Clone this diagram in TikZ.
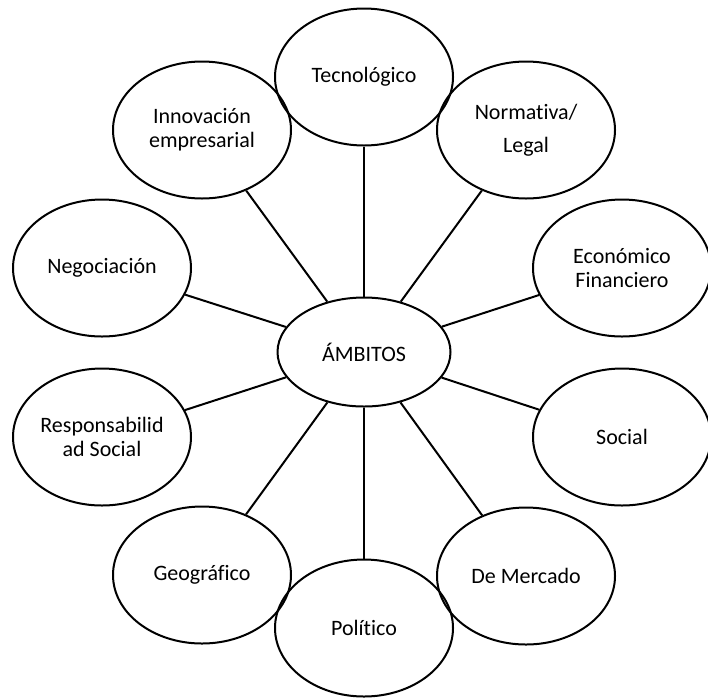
\documentclass[tikz,border=0pt]{standalone}
\usepackage{fontspec}
\setmainfont{Carlito}[Ligatures={NoCommon}]
\usetikzlibrary{shapes.geometric}

\begin{document}
\begin{tikzpicture}[x=1pt, y=-1pt, line width=2pt,
    ambito/.style={draw, ellipse, inner sep=0pt, minimum width=178pt, minimum height=137pt,
      align=center, font=\fontsize{22}{24}\selectfont},
    centro/.style={draw, ellipse, inner sep=0pt, minimum width=173pt, minimum height=109pt,
      font=\fontsize{22}{24}\selectfont}]
    \useasboundingbox (0,0) rectangle (708,697);

    \node[centro] (amb) at (364,352) {ÁMBITOS};

    \node[ambito] (tec) at (364,77) {Tecnológico};
    \node[ambito] (nor) at (526,130) {Normativa/\\[9pt]Legal};
    \node[ambito] (eco) at (622,268) {Económico\\Financiero};
    \node[ambito] (soc) at (622,437) {Social};
    \node[ambito] (mer) at (526,576) {De Mercado};
    \node[ambito] (pol) at (364,628) {Político};
    \node[ambito] (geo) at (202,575) {Geográfico};
    \node[ambito] (res) at (102,437) {Responsabilid\\ad Social};
    \node[ambito] (neg) at (102,268) {Negociación};
    \node[ambito] (inn) at (202,130) {Innovación\\empresarial};

    \foreach \n in {tec,nor,eco,soc,mer,pol,geo,res,neg,inn}
        \draw (amb) -- (\n);
\end{tikzpicture}
\end{document}
